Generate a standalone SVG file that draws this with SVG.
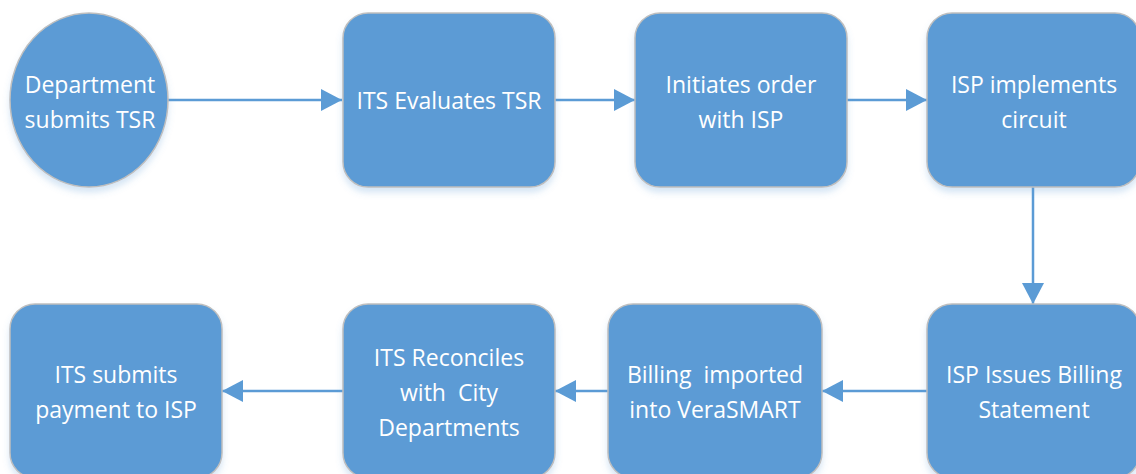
<svg xmlns="http://www.w3.org/2000/svg" width="1136" height="474" viewBox="0 0 1136 474">
<defs>
<filter id="sh" x="-10%" y="-10%" width="120%" height="130%">
<feDropShadow dx="0" dy="5" stdDeviation="3" flood-color="#5b9bd5" flood-opacity="0.25"/>
</filter>
<marker id="ah" markerUnits="userSpaceOnUse" markerWidth="22" markerHeight="22" refX="21" refY="11" orient="auto">
<path d="M0,0 L21,11 L0,22 z" fill="#5b9bd5"/>
</marker>
<style>
.n{fill:#5b9bd5;stroke:#bfbfbf;stroke-width:1.5;filter:url(#sh)}
.t{font-family:"Open Sans","Liberation Sans",sans-serif;font-size:23px;fill:#ffffff;text-anchor:middle;white-space:pre}
.c{stroke:#5b9bd5;stroke-width:2.5;fill:none;marker-end:url(#ah)}
</style>
</defs>
<rect width="1136" height="474" fill="#ffffff"/>
<g id="connectors">
<line class="c" x1="168" y1="100" x2="342" y2="100"/>
<line class="c" x1="555" y1="100" x2="635" y2="100"/>
<line class="c" x1="847" y1="100" x2="927" y2="100"/>
<line class="c" x1="1033" y1="187" x2="1033" y2="304"/>
<line class="c" x1="927" y1="391" x2="822" y2="391"/>
<line class="c" x1="608" y1="391" x2="555" y2="391"/>
<line class="c" x1="343" y1="391" x2="222" y2="391"/>
</g>
<g id="n1">
<ellipse class="n" cx="89" cy="100" rx="79" ry="87"/>
<text class="t" x="90" y="93">Department</text>
<text class="t" x="90" y="128">submits TSR</text>
</g>
<g id="n2">
<rect class="n" x="343" y="13" width="212" height="174" rx="25"/>
<text class="t" x="449" y="109">ITS Evaluates TSR</text>
</g>
<g id="n3">
<rect class="n" x="635" y="13" width="212" height="174" rx="25"/>
<text class="t" x="741" y="93">Initiates order</text>
<text class="t" x="741" y="128">with ISP</text>
</g>
<g id="n4">
<rect class="n" x="927" y="13" width="213" height="174" rx="25"/>
<text class="t" x="1034" y="93">ISP implements</text>
<text class="t" x="1034" y="128">circuit</text>
</g>
<g id="n5">
<rect class="n" x="927" y="304" width="213" height="174" rx="25"/>
<text class="t" x="1034" y="383">ISP Issues Billing</text>
<text class="t" x="1034" y="418">Statement</text>
</g>
<g id="n6">
<rect class="n" x="608" y="304" width="214" height="174" rx="25"/>
<text class="t" x="715" y="383">Billing  imported</text>
<text class="t" x="715" y="418">into VeraSMART</text>
</g>
<g id="n7">
<rect class="n" x="343" y="304" width="212" height="174" rx="25"/>
<text class="t" x="449" y="366">ITS Reconciles</text>
<text class="t" x="449" y="401">with  City</text>
<text class="t" x="449" y="436">Departments</text>
</g>
<g id="n8">
<rect class="n" x="10" y="304" width="212" height="174" rx="25"/>
<text class="t" x="116" y="383">ITS submits</text>
<text class="t" x="116" y="418">payment to ISP</text>
</g>
</svg>
